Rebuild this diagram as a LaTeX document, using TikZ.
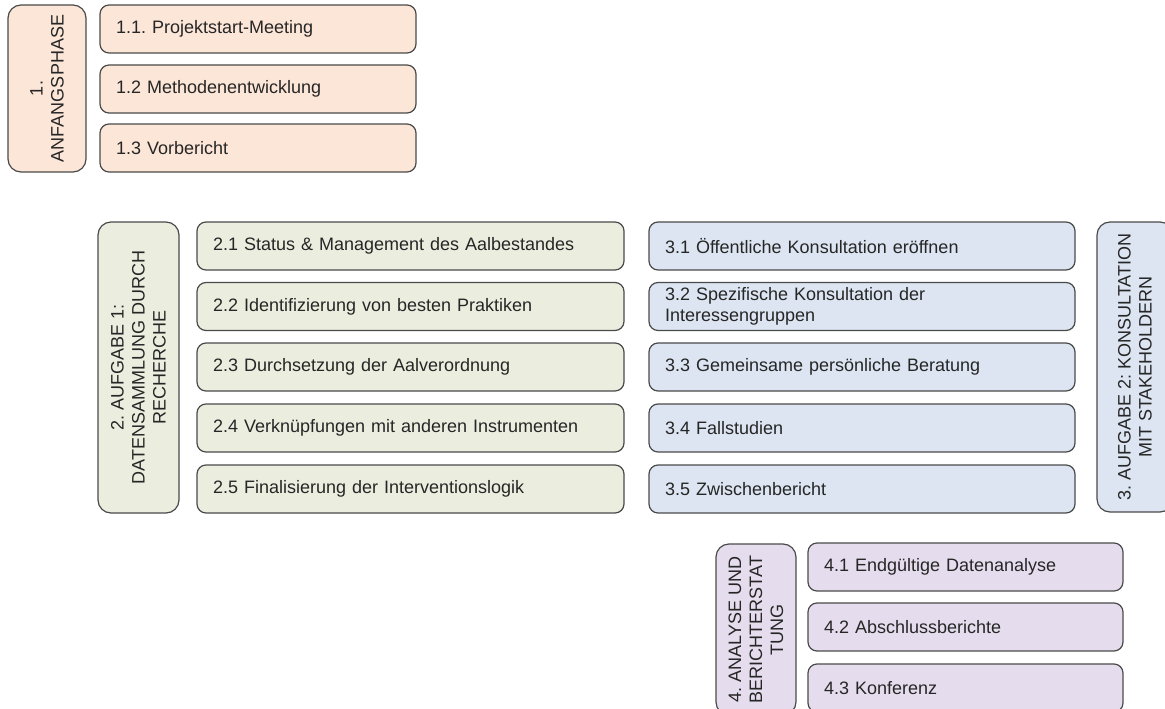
\documentclass[tikz,border=0pt]{standalone}
\usepackage{fontspec}
\setmainfont{Liberation Sans}
\usetikzlibrary{positioning}
\frenchspacing
\definecolor{mpeach}{HTML}{FCE6D8}
\definecolor{mgreen}{HTML}{EBEEDF}
\definecolor{mblue}{HTML}{DCE5F1}
\definecolor{mlila}{HTML}{E5DDEE}
\definecolor{mrand}{HTML}{4A4A4A}
\definecolor{mtext}{HTML}{262626}
\tikzset{box/.style = {draw=mrand, line width=1.2pt, text=mtext, outer sep=0,
                       font=\fontsize{18}{21}\selectfont}}
\tikzset{item/.style = {box, rounded corners=9, anchor=north west, minimum height=48,
                        inner xsep=16, align=left}}
\tikzset{phase/.style = {box, rounded corners=13, rotate=90, align=center, inner sep=0}}

\begin{document}
\begin{tikzpicture}[x=1pt, y=-1pt]
    \useasboundingbox (0, 0) rectangle (1165, 709);
    \clip (0, 0) rectangle (1165, 709);

    \node [phase, fill=mpeach, minimum width=167, minimum height=78] (p1) at (47, 88.5) {1.\\ANFANGSPHASE};
    \foreach \n/\y/\t in {1/5/{1.1. Projektstart-Meeting}, 2/65/{1.2 Methodenentwicklung}, 3/124/{1.3 Vorbericht}}
      \node [item, fill=mpeach, text width=284] (a1\n) at (100, \y) {\t};

    \node [phase, fill=mgreen, minimum width=291, minimum height=81] (p2) at (138.5, 367.5) {2. AUFGABE 1:\\DATENSAMMLUNG DURCH\\RECHERCHE};
    \foreach \n/\y/\t in {1/222/{2.1 Status \& Management des Aalbestandes}, 2/282.5/{2.2 Identifizierung von besten Praktiken},
                          3/343/{2.3 Durchsetzung der Aalverordnung}, 4/404/{2.4 Verknüpfungen mit anderen Instrumenten},
                          5/465/{2.5 Finalisierung der Interventionslogik}}
      \node [item, fill=mgreen, text width=395] (a2\n) at (197, \y) {\t};

    \foreach \n/\y/\t in {1/222/{3.1 Öffentliche Konsultation eröffnen}, 2/282.5/{3.2 Spezifische Konsultation der\\Interessengruppen},
                          3/343/{3.3 Gemeinsame persönliche Beratung}, 4/404/{3.4 Fallstudien},
                          5/465/{3.5 Zwischenbericht}}
      \node [item, fill=mblue, text width=394] (a3\n) at (649, \y) {\t};
    \node [phase, fill=mblue, minimum width=290, minimum height=76] (p3) at (1135, 367) {3. AUFGABE 2: KONSULTATION\\MIT STAKEHOLDERN};

    \node [phase, fill=mlila, minimum width=171, minimum height=80] (p4) at (756, 629.5) {4. ANALYSE UND\\BERICHTERSTAT\\TUNG};
    \foreach \n/\y/\t in {1/543/{4.1 Endgültige Datenanalyse}, 2/603/{4.2 Abschlussberichte}, 3/664/{4.3 Konferenz}}
      \node [item, fill=mlila, text width=283] (a4\n) at (808, \y) {\t};
\end{tikzpicture}
\end{document}
